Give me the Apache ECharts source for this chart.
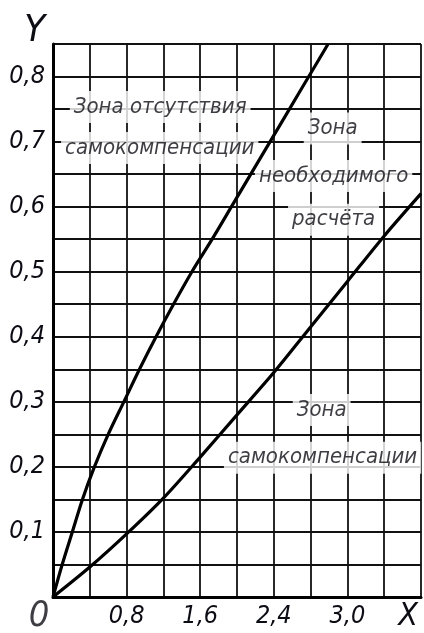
<!DOCTYPE html>
<html>
<head>
<meta charset="utf-8">
<script src="https://cdn.jsdelivr.net/npm/echarts@6/dist/echarts.min.js"></script>
<style>html,body{margin:0;padding:0;background:#fff}#c{width:424px;height:633px}</style>
</head>
<body>
<div id="c"></div>
<script>
// ---- data ----
const upperX = [0, 0.1, 0.21, 0.32, 0.45, 0.6, 0.77, 0.94, 1.12, 1.31, 1.51, 1.73, 1.94, 2.15, 2.36, 2.57, 2.78, 2.99];
const upperY = [0, 0.05, 0.1, 0.15, 0.2, 0.25, 0.3, 0.35, 0.4, 0.45, 0.5, 0.55, 0.6, 0.65, 0.7, 0.75, 0.8, 0.85];
const lowerX = [0, 0.4, 0.8, 1.2, 1.6, 2.0, 2.4, 2.8, 3.2, 3.6, 4.0];
const lowerY = [0, 0.046, 0.097, 0.152, 0.215, 0.28, 0.345, 0.415, 0.485, 0.555, 0.62];
const xTickValues = [0.8, 1.6, 2.4, 3.2];
const xTickLabels = ['0,8', '1,6', '2,4', '3,0'];
const yTickValues = [0.1, 0.2, 0.3, 0.4, 0.5, 0.6, 0.7, 0.8];
const yTickLabels = ['0,1', '0,2', '0,3', '0,4', '0,5', '0,6', '0,7', '0,8'];
const zoneText = ['Зона отсутствия', 'самокомпенсации', 'Зона', 'необходимого', 'расчёта', 'Зона', 'самокомпенсации'];
const zoneX = [1.165, 1.16, 3.04, 3.05, 3.05, 2.92, 2.93];
const zoneY = [0.753, 0.69, 0.72, 0.647, 0.58, 0.2875, 0.214];
const originLabel = '0';
const xName = 'X', yName = 'Y';

// ---- chart ----
const FONT = "'DejaVu Sans Condensed', 'Liberation Sans Narrow', sans-serif";
const INK = '#0c0c14';
const chart = echarts.init(document.getElementById('c'), null, {renderer: 'canvas'});
const pair = (xs, ys) => xs.map((x, i) => [x, ys[i]]);
const near = (v, arr) => arr.findIndex(a => Math.abs(a - v) < 1e-6);

chart.setOption({
  animation: false,
  backgroundColor: '#fff',
  grid: {left: 53, right: 0, top: 44, bottom: 33, containLabel: false},
  xAxis: {
    type: 'value', min: 0, max: 4.0, interval: 0.4,
    name: xName, nameLocation: 'end', nameGap: -13,
    nameTextStyle: {fontFamily: FONT, fontStyle: 'italic', fontSize: 32, color: INK, align: 'center', verticalAlign: 'top', padding: [4, 0, 0, 0]},
    axisLine: {show: true, onZero: false, lineStyle: {color: '#000', width: 3}},
    axisTick: {show: false},
    axisLabel: {
      margin: 7, fontFamily: FONT, fontStyle: 'italic', fontSize: 25, color: INK,
      formatter: v => { const i = near(v, xTickValues); return i >= 0 ? xTickLabels[i] : ''; }
    },
    splitLine: {show: true, lineStyle: {color: '#111', width: 1.8}}
  },
  yAxis: {
    type: 'value', min: 0, max: 0.85, interval: 0.05,
    name: yName, nameLocation: 'end', nameGap: -6,
    nameTextStyle: {fontFamily: FONT, fontStyle: 'italic', fontSize: 38, color: INK, align: 'right', verticalAlign: 'bottom', padding: [0, 8, 0, 0]},
    axisLine: {show: true, onZero: false, lineStyle: {color: '#000', width: 3}},
    axisTick: {show: false},
    axisLabel: {
      margin: 8, fontFamily: FONT, fontStyle: 'italic', fontSize: 25, color: INK,
      formatter: v => { const i = near(v, yTickValues); return i >= 0 ? yTickLabels[i] : ''; }
    },
    splitLine: {show: true, lineStyle: {color: '#111', width: 1.8}}
  },
  series: [
    {
      type: 'scatter', z: 2, symbolSize: 1, itemStyle: {color: 'rgba(0,0,0,0)'},
      silent: true,
      data: zoneText.map((t, i) => ({name: t, value: [zoneX[i], zoneY[i]]})),
      label: {
        show: true, position: 'inside', formatter: p => p.name,
        fontFamily: FONT, fontStyle: 'italic', fontSize: 22, lineHeight: 26, color: INK,
        backgroundColor: '#fff', padding: [3, 4]
      }
    },
    {
      type: 'scatter', z: 2, symbolSize: 1, itemStyle: {color: 'rgba(0,0,0,0)'}, silent: true,
      data: [{name: originLabel, value: [0, 0]}],
      label: {
        show: true, position: 'inside', offset: [-14, 20], formatter: p => p.name,
        fontFamily: FONT, fontStyle: 'italic', fontSize: 36, color: INK
      }
    },
    {
      type: 'line', z: 3, smooth: 0.3, symbol: 'none',
      lineStyle: {color: '#000', width: 3.2},
      data: pair(upperX, upperY)
    },
    {
      type: 'line', z: 3, smooth: 0.3, symbol: 'none',
      lineStyle: {color: '#000', width: 3.2},
      data: pair(lowerX, lowerY)
    }
  ]
});
</script>
</body>
</html>
